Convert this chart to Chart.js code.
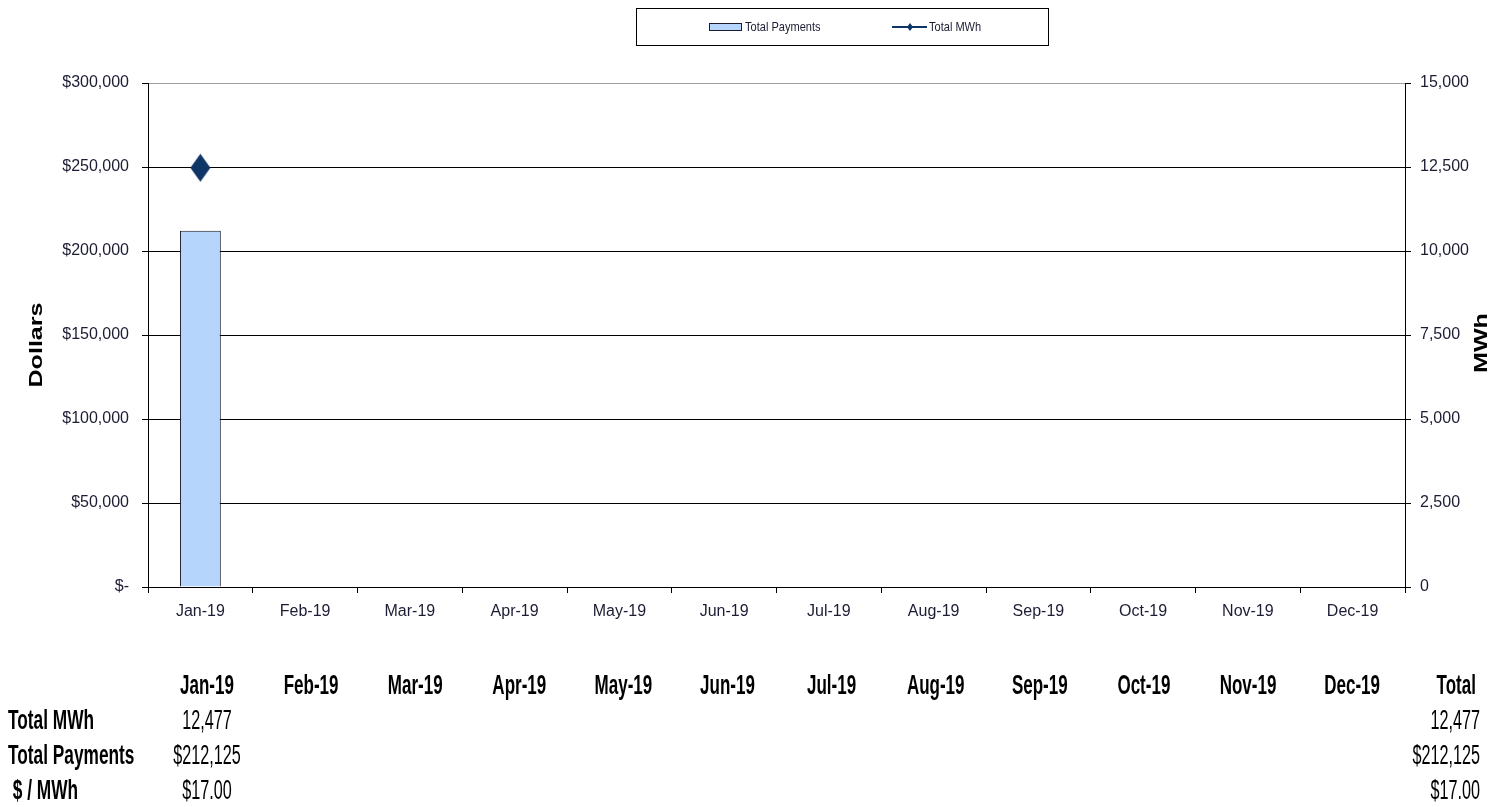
<!DOCTYPE html>
<html><head><meta charset="utf-8">
<script src="https://cdn.jsdelivr.net/npm/chart.js@4.4.1/dist/chart.umd.min.js"></script>
<style>html,body{margin:0;padding:0;background:#fff}#wrap{width:1510px;height:807px;position:relative}</style>
</head><body><div id="wrap"><canvas id="c"></canvas></div>
<script>
const months = ['Jan-19','Feb-19','Mar-19','Apr-19','May-19','Jun-19','Jul-19','Aug-19','Sep-19','Oct-19','Nov-19','Dec-19'];
const totalPayments = [212125, null, null, null, null, null, null, null, null, null, null, null];
const totalMWh = [12477, null, null, null, null, null, null, null, null, null, null, null];
const rowLabels = ['Total MWh', 'Total Payments', ' $ / MWh'];
const rowMWh = ['12,477', '', '', '', '', '', '', '', '', '', '', ''];
const rowPayments = ['$212,125', '', '', '', '', '', '', '', '', '', '', ''];
const rowPerMWh = ['$17.00', '', '', '', '', '', '', '', '', '', '', ''];
const totalHeader = 'Total';
const totalsCol = ['12,477', '$212,125', '$17.00'];

const SANS = '"Liberation Sans", Arial, sans-serif';
const TXT = '#1c1c34';

// tall diamond marker
const dia = document.createElement('canvas');
dia.width = 21; dia.height = 29;
(function(){ const g = dia.getContext('2d'); g.fillStyle = '#0e3566';
  g.beginPath(); g.moveTo(10.5,0.5); g.lineTo(20.5,14.5); g.lineTo(10.5,28.5); g.lineTo(0.5,14.5); g.closePath(); g.fill(); })();

function stretchedText(ctx, text, x, y, font, sx, rot, align) {
  ctx.save();
  ctx.translate(x, y);
  if (rot) ctx.rotate(rot);
  ctx.scale(sx, 1);
  ctx.font = font;
  ctx.textAlign = align || 'center';
  ctx.textBaseline = 'middle';
  ctx.fillText(text, 0, 0);
  ctx.restore();
}

const extras = {
  id: 'extras',
  afterDraw(chart) {
    const ctx = chart.ctx;
    ctx.save();
    // axis titles
    ctx.fillStyle = '#000';
    stretchedText(ctx, 'Dollars', 37, 345, 'bold 19px ' + SANS, 1.32, -Math.PI/2);
    stretchedText(ctx, 'MWh', 1482, 343, 'bold 19px ' + SANS, 1.32, -Math.PI/2);

    // legend box
    ctx.strokeStyle = '#000'; ctx.lineWidth = 1;
    ctx.strokeRect(636.5, 8.5, 412, 37);
    ctx.fillStyle = '#b5d5fd'; ctx.fillRect(709.5, 23.5, 32, 7);
    ctx.strokeStyle = '#1c1c2c'; ctx.strokeRect(709.5, 23.5, 32, 7);
    ctx.fillStyle = TXT;
    stretchedText(ctx, 'Total Payments', 745, 27, '13px ' + SANS, 0.85, 0, 'left');
    ctx.strokeStyle = '#0e3566'; ctx.lineWidth = 2;
    ctx.beginPath(); ctx.moveTo(892, 27); ctx.lineTo(927, 27); ctx.stroke();
    ctx.fillStyle = '#0e3566';
    ctx.beginPath(); ctx.moveTo(910, 23); ctx.lineTo(913, 27); ctx.lineTo(910, 31); ctx.lineTo(907, 27); ctx.closePath(); ctx.fill();
    ctx.fillStyle = TXT;
    stretchedText(ctx, 'Total MWh', 929, 27, '13px ' + SANS, 0.85, 0, 'left');

    // data table
    ctx.fillStyle = '#000';
    const colX = i => 207 + i * 104.1;
    const rowsY = [722, 757, 792];
    const bold = 'bold 27px ' + SANS;
    const reg = '27px ' + SANS;
    months.forEach((m, i) => stretchedText(ctx, m, colX(i), 687, bold, 0.63));
    stretchedText(ctx, totalHeader, colX(12), 687, bold, 0.63);
    rowLabels.forEach((l, r) => stretchedText(ctx, l, 8, rowsY[r], bold, 0.64, 0, 'left'));
    [rowMWh, rowPayments, rowPerMWh].forEach((row, r) => {
      row.forEach((v, i) => { if (v) stretchedText(ctx, v, colX(i), rowsY[r], reg, 0.6); });
      stretchedText(ctx, totalsCol[r], 1480, rowsY[r], reg, 0.6, 0, 'right');
    });
    ctx.restore();
  }
};

new Chart(document.getElementById('c'), {
  data: {
    labels: months,
    datasets: [
      { type: 'line', label: 'Total MWh', data: totalMWh, yAxisID: 'y1', borderColor: '#0e3566', backgroundColor: '#0e3566',
        pointStyle: dia, borderWidth: 2, order: 1 },
      { type: 'bar', label: 'Total Payments', data: totalPayments, yAxisID: 'y', backgroundColor: '#b5d5fd',
        borderColor: '#111122', borderWidth: 1, barPercentage: 0.39, categoryPercentage: 1, order: 2 }
    ]
  },
  options: {
    responsive: true, maintainAspectRatio: false, animation: false,
    layout: { padding: { top: 83, left: 0, right: 0, bottom: 0 } },
    plugins: { legend: { display: false }, tooltip: { enabled: false } },
    scales: {
      x: {
        offset: true,
        grid: { offset: true, drawOnChartArea: false, drawTicks: true, tickLength: 6, color: '#000' },
        border: { color: '#000', width: 1 },
        ticks: { color: TXT, font: { family: SANS, size: 16 }, padding: 9, maxRotation: 0, autoSkip: false },
        afterFit(s) { s.height = 220; }
      },
      y: {
        position: 'left', min: 0, max: 300000,
        ticks: { stepSize: 50000, color: TXT, font: { family: SANS, size: 16 }, padding: 13,
          callback: v => v === 0 ? '$-' : '$' + v.toLocaleString('en-US') },
        grid: { color: c => (c.tick && c.tick.value === 300000) ? '#a0a0a0' : '#000', tickColor: '#000', tickLength: 6, lineWidth: 1 },
        border: { color: '#000', width: 1 },
        afterFit(s) { s.width = 148; }
      },
      y1: {
        position: 'right', min: 0, max: 15000,
        ticks: { stepSize: 2500, color: TXT, font: { family: SANS, size: 16 }, padding: 9,
          callback: v => v.toLocaleString('en-US') },
        grid: { drawOnChartArea: false, color: '#000', tickLength: 6 },
        border: { color: '#000', width: 1 },
        afterFit(s) { s.width = 105; }
      }
    }
  },
  plugins: [extras]
});
</script></body></html>
